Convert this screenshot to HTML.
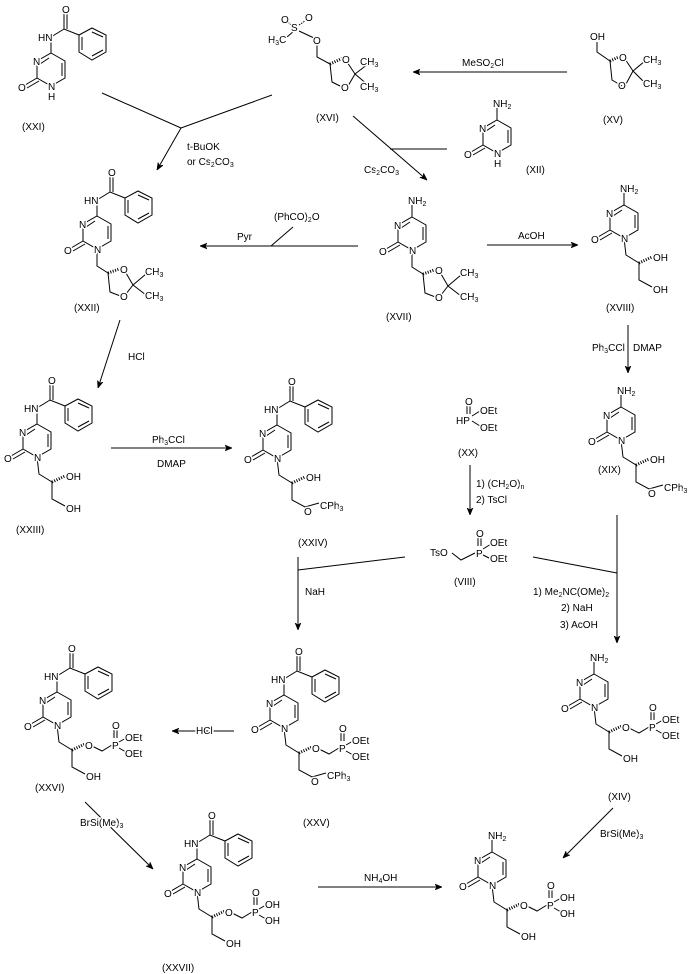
<!DOCTYPE html>
<html><head><meta charset="utf-8">
<style>
html,body{margin:0;padding:0;background:#fff;}
svg{display:block;}
text{font-family:"Liberation Sans",sans-serif;font-size:10px;fill:#000;paint-order:stroke;stroke:#fff;stroke-width:3px;stroke-linejoin:round;}
.s{font-size:7px;}
path,line{stroke:#000;stroke-width:1;fill:none;}
.h{stroke-width:3;stroke-dasharray:1,1.5;}
</style></head><body>
<svg width="690" height="974" viewBox="0 0 690 974" xmlns="http://www.w3.org/2000/svg">
<defs>
<marker id="a" viewBox="0 0 10 10" refX="10" refY="5" markerWidth="7" markerHeight="7" orient="auto-start-reverse" markerUnits="userSpaceOnUse"><path d="M0,1 L10,5 L0,9 L3,5 Z" style="fill:#000;stroke:#000;stroke-width:1"/></marker>
</defs>

<!-- ===== Arrows ===== -->
<line x1="567" y1="72" x2="413" y2="72" marker-end="url(#a)"/>
<line x1="102" y1="93" x2="181" y2="128"/>
<line x1="272" y1="95" x2="181" y2="128"/>
<line x1="181" y1="128" x2="157" y2="170" marker-end="url(#a)"/>
<line x1="353" y1="116" x2="427" y2="180" marker-end="url(#a)"/>
<line x1="390" y1="149" x2="447" y2="149"/>
<line x1="358" y1="246" x2="200" y2="246" marker-end="url(#a)"/>
<line x1="271" y1="246" x2="293" y2="227"/>
<line x1="487" y1="245" x2="578" y2="245" marker-end="url(#a)"/>
<line x1="120" y1="320" x2="98" y2="388" marker-end="url(#a)"/>
<line x1="628" y1="325" x2="628" y2="373" marker-end="url(#a)"/>
<line x1="111" y1="448" x2="232" y2="448" marker-end="url(#a)"/>
<line x1="470" y1="465" x2="470" y2="515" marker-end="url(#a)"/>
<line x1="405" y1="557" x2="298" y2="570"/>
<line x1="298" y1="557" x2="298" y2="630" marker-end="url(#a)"/>
<line x1="533" y1="557" x2="617" y2="573"/>
<line x1="617" y1="515" x2="617" y2="643" marker-end="url(#a)"/>
<line x1="234" y1="731" x2="172" y2="731" marker-end="url(#a)"/>
<line x1="85" y1="802" x2="153" y2="869" marker-end="url(#a)"/>
<line x1="318" y1="887" x2="442" y2="887" marker-end="url(#a)"/>
<line x1="613" y1="808" x2="563" y2="858" marker-end="url(#a)"/>

<!-- arrow labels -->
<text x="462" y="66">MeSO<tspan class="s" dy="2">2</tspan><tspan dy="-2">Cl</tspan></text>
<text x="187" y="150">t-BuOK</text>
<text x="187" y="165">or Cs<tspan class="s" dy="2">2</tspan><tspan dy="-2">CO</tspan><tspan class="s" dy="2">3</tspan></text>
<text x="364" y="173">Cs<tspan class="s" dy="2">2</tspan><tspan dy="-2">CO</tspan><tspan class="s" dy="2">3</tspan></text>
<text x="274" y="220">(PhCO)<tspan class="s" dy="2">2</tspan><tspan dy="-2">O</tspan></text>
<text x="237" y="240">Pyr</text>
<text x="518" y="239">AcOH</text>
<text x="128" y="360">HCl</text>
<text x="592" y="351">Ph<tspan class="s" dy="2">3</tspan><tspan dy="-2">CCl</tspan></text>
<text x="633" y="351">DMAP</text>
<text x="152" y="443">Ph<tspan class="s" dy="2">3</tspan><tspan dy="-2">CCl</tspan></text>
<text x="157" y="467">DMAP</text>
<text x="476" y="487">1) (CH<tspan class="s" dy="2">2</tspan><tspan dy="-2">O)</tspan><tspan class="s" dy="2">n</tspan></text>
<text x="476" y="503">2) TsCl</text>
<text x="305" y="595">NaH</text>
<text x="533" y="595">1) Me<tspan class="s" dy="2">2</tspan><tspan dy="-2">NC(OMe)</tspan><tspan class="s" dy="2">2</tspan></text>
<text x="561" y="611">2) NaH</text>
<text x="560" y="628">3) AcOH</text>
<text x="196" y="734">HCl</text>
<text x="80" y="826">BrSi(Me)<tspan class="s" dy="2">3</tspan></text>
<text x="364" y="881">NH<tspan class="s" dy="2">4</tspan><tspan dy="-2">OH</tspan></text>
<text x="600" y="837">BrSi(Me)<tspan class="s" dy="2">3</tspan></text>

<!-- compound labels -->
<text x="22" y="130">(XXI)</text>
<text x="316" y="121">(XVI)</text>
<text x="603" y="123">(XV)</text>
<text x="526" y="173">(XII)</text>
<text x="74" y="311">(XXII)</text>
<text x="386" y="320">(XVII)</text>
<text x="606" y="311">(XVIII)</text>
<text x="458" y="456">(XX)</text>
<text x="598" y="473">(XIX)</text>
<text x="16" y="533">(XXIII)</text>
<text x="298" y="546">(XXIV)</text>
<text x="454" y="585">(VIII)</text>
<text x="35" y="791">(XXVI)</text>
<text x="303" y="826">(XXV)</text>
<text x="608" y="800">(XIV)</text>
<text x="162" y="971">(XXVII)</text>

<!-- ===== XVI ===== -->
<path d="M287,37 L294,31 M299,31 L314,38 M317,45 L317,57 L330,64 L332,82 L344,88 M355,74 L347,62 M355,74 L348,86 M355,74 L368,64 M355,74 L368,85"/>
<path d="M291,25 L288,22 M299,25 L305,21" style="stroke-dasharray:1.5,1"/>
<line class="h" x1="330" y1="64" x2="343" y2="58"/>
<text x="268" y="43">H<tspan class="s" dy="2">3</tspan><tspan dy="-2">C</tspan></text>
<text x="291" y="31">S</text>
<text x="281" y="23">O</text>
<text x="305" y="21">O</text>
<text x="313" y="44">O</text>
<text x="342" y="63">O</text>
<text x="341" y="91">O</text>
<text x="360" y="65">CH<tspan class="s" dy="2">3</tspan></text>
<text x="360" y="90">CH<tspan class="s" dy="2">3</tspan></text>

<!-- ===== XV ===== -->
<path d="M597,42 L597,52 L610,61 L612,80 L622,86 M633,71 L625,59 M633,71 L626,84 M633,71 L645,61 M633,71 L645,83"/>
<line class="h" x1="610" y1="61" x2="621" y2="56"/>
<text x="590" y="40">OH</text>
<text x="619" y="61">O</text>
<text x="618" y="89">O</text>
<text x="643" y="63">CH<tspan class="s" dy="2">3</tspan></text>
<text x="643" y="87">CH<tspan class="s" dy="2">3</tspan></text>

<!-- ===== XX ===== -->
<path d="M467,406 L467,414 M470,406 L470,414 M472,416 L480,411 M472,421 L480,426"/>
<text x="465" y="405">O</text>
<text x="456" y="424">HP</text>
<text x="480" y="414">OEt</text>
<text x="480" y="431">OEt</text>

<!-- ===== VIII ===== -->
<path d="M452,553 L461,560 L475,553 M478,538 L478,546 M481,538 L481,546 M483,549 L491,544 M483,555 L491,559"/>
<text x="430" y="556">TsO</text>
<text x="476" y="557">P</text>
<text x="476" y="537">O</text>
<text x="490" y="546">OEt</text>
<text x="490" y="562">OEt</text>

<!-- ===== XXI (benzoyl, NH) ===== -->
<g transform="translate(51,53)">
<path d="M0,0 L14,8 L14,25 L0,33 L-14,25 L-14,8 Z M11,10 L11,23 M-11,11 L-2,5 M-14,25 L-26,32 M-12,28 L-24,35"/>
<path d="M0,0 L0,-16 L13,-24 L28,-18 M13,-24 L13,-40 M16,-24 L16,-40 M28,-18 L41,-25 L55,-18 L55,-1 L41,7 L28,-1 Z M41,-21 L52,-16 M52,-3 L41,3 M31,-3 L31,-16"/>
<text x="-13" y="-12">HN</text><text x="11" y="-40">O</text>
<text x="-18" y="12">N</text><text x="-33" y="38">O</text>
<text x="-3" y="37">N</text><text x="-3" y="47">H</text>
</g>

<!-- ===== XII (NH2, NH) ===== -->
<g transform="translate(497,120)">
<path d="M0,0 L14,8 L14,25 L0,33 L-14,25 L-14,8 Z M11,10 L11,23 M-11,11 L-2,5 M-14,25 L-26,32 M-12,28 L-24,35 M0,0 L0,-12"/>
<text x="-4" y="-13">NH<tspan class="s" dy="2">2</tspan></text>
<text x="-18" y="12">N</text><text x="-33" y="38">O</text>
<text x="-3" y="37">N</text><text x="-3" y="47">H</text>
</g>

<!-- ===== XXII (benzoyl + dioxolane) ===== -->
<g transform="translate(97,216)">
<path d="M0,0 L14,8 L14,25 L0,33 L-14,25 L-14,8 Z M11,10 L11,23 M-11,11 L-2,5 M-14,25 L-26,32 M-12,28 L-24,35"/>
<path d="M0,0 L0,-16 L13,-24 L28,-18 M13,-24 L13,-40 M16,-24 L16,-40 M28,-18 L41,-25 L55,-18 L55,-1 L41,7 L28,-1 Z M41,-21 L52,-16 M52,-3 L41,3 M31,-3 L31,-16"/>
<path d="M0,33 L0,50 L11,57 L13,76 L26,81 M36,69 L29,57 M36,69 L29,78 M36,69 L49,58 M36,69 L49,79"/>
<line class="h" x1="11" y1="57" x2="25" y2="52"/>
<text x="-13" y="-12">HN</text><text x="11" y="-40">O</text>
<text x="-18" y="12">N</text><text x="-33" y="38">O</text><text x="-3" y="37">N</text>
<text x="23" y="57">O</text><text x="23" y="84">O</text>
<text x="48" y="59">CH<tspan class="s" dy="2">3</tspan></text>
<text x="48" y="83">CH<tspan class="s" dy="2">3</tspan></text>
</g>

<!-- ===== XVII (NH2 + dioxolane) ===== -->
<g transform="translate(412,217)">
<path d="M0,0 L14,8 L14,25 L0,33 L-14,25 L-14,8 Z M11,10 L11,23 M-11,11 L-2,5 M-14,25 L-26,32 M-12,28 L-24,35 M0,0 L0,-12"/>
<path d="M0,33 L0,50 L11,57 L13,76 L26,81 M36,69 L29,57 M36,69 L29,78 M36,69 L49,58 M36,69 L49,79"/>
<line class="h" x1="11" y1="57" x2="25" y2="52"/>
<text x="-4" y="-13">NH<tspan class="s" dy="2">2</tspan></text>
<text x="-18" y="12">N</text><text x="-33" y="38">O</text><text x="-3" y="37">N</text>
<text x="23" y="57">O</text><text x="23" y="84">O</text>
<text x="48" y="59">CH<tspan class="s" dy="2">3</tspan></text>
<text x="48" y="83">CH<tspan class="s" dy="2">3</tspan></text>
</g>

<!-- ===== XVIII (NH2 + diol) ===== -->
<g transform="translate(624,205)">
<path d="M0,0 L14,8 L14,25 L0,33 L-14,25 L-14,8 Z M11,10 L11,23 M-11,11 L-2,5 M-14,25 L-26,32 M-12,28 L-24,35 M0,0 L0,-12"/>
<path d="M0,33 L2,50 L15,58 L15,75 L28,82"/>
<line class="h" x1="15" y1="58" x2="28" y2="52"/>
<text x="-4" y="-13">NH<tspan class="s" dy="2">2</tspan></text>
<text x="-18" y="12">N</text><text x="-33" y="38">O</text><text x="-3" y="37">N</text>
<text x="29" y="56">OH</text><text x="29" y="88">OH</text>
</g>

<!-- ===== XXIII (benzoyl + diol) ===== -->
<g transform="translate(37,424)">
<path d="M0,0 L14,8 L14,25 L0,33 L-14,25 L-14,8 Z M11,10 L11,23 M-11,11 L-2,5 M-14,25 L-26,32 M-12,28 L-24,35"/>
<path d="M0,0 L0,-16 L13,-24 L28,-18 M13,-24 L13,-40 M16,-24 L16,-40 M28,-18 L41,-25 L55,-18 L55,-1 L41,7 L28,-1 Z M41,-21 L52,-16 M52,-3 L41,3 M31,-3 L31,-16"/>
<path d="M0,33 L2,50 L15,58 L15,75 L28,82"/>
<line class="h" x1="15" y1="58" x2="28" y2="52"/>
<text x="-13" y="-12">HN</text><text x="11" y="-40">O</text>
<text x="-18" y="12">N</text><text x="-33" y="38">O</text><text x="-3" y="37">N</text>
<text x="29" y="56">OH</text><text x="29" y="88">OH</text>
</g>

<!-- ===== XXIV (benzoyl + OH/OCPh3) ===== -->
<g transform="translate(277,425)">
<path d="M0,0 L14,8 L14,25 L0,33 L-14,25 L-14,8 Z M11,10 L11,23 M-11,11 L-2,5 M-14,25 L-26,32 M-12,28 L-24,35"/>
<path d="M0,0 L0,-16 L13,-24 L28,-18 M13,-24 L13,-40 M16,-24 L16,-40 M28,-18 L41,-25 L55,-18 L55,-1 L41,7 L28,-1 Z M41,-21 L52,-16 M52,-3 L41,3 M31,-3 L31,-16"/>
<path d="M0,33 L2,50 L15,58 L15,75 L28,82 L42,78"/>
<line class="h" x1="15" y1="58" x2="28" y2="52"/>
<text x="-13" y="-12">HN</text><text x="11" y="-40">O</text>
<text x="-18" y="12">N</text><text x="-33" y="38">O</text><text x="-3" y="37">N</text>
<text x="29" y="56">OH</text><text x="27" y="90">O</text>
<text x="43" y="84">CPh<tspan class="s" dy="2">3</tspan></text>
</g>

<!-- ===== XIX (NH2 + OH/OCPh3) ===== -->
<g transform="translate(621,407)">
<path d="M0,0 L14,8 L14,25 L0,33 L-14,25 L-14,8 Z M11,10 L11,23 M-11,11 L-2,5 M-14,25 L-26,32 M-12,28 L-24,35 M0,0 L0,-12"/>
<path d="M0,33 L2,50 L15,58 L15,75 L28,82 L42,78"/>
<line class="h" x1="15" y1="58" x2="28" y2="52"/>
<text x="-4" y="-13">NH<tspan class="s" dy="2">2</tspan></text>
<text x="-18" y="12">N</text><text x="-33" y="38">O</text><text x="-3" y="37">N</text>
<text x="29" y="56">OH</text><text x="27" y="90">O</text>
<text x="43" y="84">CPh<tspan class="s" dy="2">3</tspan></text>
</g>

<!-- ===== XXVI (benzoyl + phosphonate OEt + OH) ===== -->
<g transform="translate(57,692)">
<path d="M0,0 L14,8 L14,25 L0,33 L-14,25 L-14,8 Z M11,10 L11,23 M-11,11 L-2,5 M-14,25 L-26,32 M-12,28 L-24,35"/>
<path d="M0,0 L0,-16 L13,-24 L28,-18 M13,-24 L13,-40 M16,-24 L16,-40 M28,-18 L41,-25 L55,-18 L55,-1 L41,7 L28,-1 Z M41,-21 L52,-16 M52,-3 L41,3 M31,-3 L31,-16"/>
<path d="M0,33 L2,50 L15,58 L15,75 L28,82 M35,54 L45,59 L55,53 M57,46 L57,37 M60,46 L60,37 M62,50 L69,46 M62,56 L69,60"/>
<line class="h" x1="15" y1="58" x2="28" y2="52"/>
<text x="-13" y="-12">HN</text><text x="11" y="-40">O</text>
<text x="-18" y="12">N</text><text x="-33" y="38">O</text><text x="-3" y="37">N</text>
<text x="28" y="57">O</text><text x="55" y="57">P</text><text x="55" y="37">O</text>
<text x="68" y="49">OEt</text><text x="68" y="65">OEt</text>
<text x="29" y="88">OH</text>
</g>

<!-- ===== XXV (benzoyl + phosphonate OEt + OCPh3) ===== -->
<g transform="translate(284,695)">
<path d="M0,0 L14,8 L14,25 L0,33 L-14,25 L-14,8 Z M11,10 L11,23 M-11,11 L-2,5 M-14,25 L-26,32 M-12,28 L-24,35"/>
<path d="M0,0 L0,-16 L13,-24 L28,-18 M13,-24 L13,-40 M16,-24 L16,-40 M28,-18 L41,-25 L55,-18 L55,-1 L41,7 L28,-1 Z M41,-21 L52,-16 M52,-3 L41,3 M31,-3 L31,-16"/>
<path d="M0,33 L2,50 L15,58 L15,75 L28,82 L42,78 M35,54 L45,59 L55,53 M57,46 L57,37 M60,46 L60,37 M62,50 L69,46 M62,56 L69,60"/>
<line class="h" x1="15" y1="58" x2="28" y2="52"/>
<text x="-13" y="-12">HN</text><text x="11" y="-40">O</text>
<text x="-18" y="12">N</text><text x="-33" y="38">O</text><text x="-3" y="37">N</text>
<text x="28" y="57">O</text><text x="55" y="57">P</text><text x="55" y="37">O</text>
<text x="68" y="49">OEt</text><text x="68" y="65">OEt</text>
<text x="27" y="90">O</text>
<text x="43" y="84">CPh<tspan class="s" dy="2">3</tspan></text>
</g>

<!-- ===== XIV (NH2 + phosphonate OEt + OH) ===== -->
<g transform="translate(594,674)">
<path d="M0,0 L14,8 L14,25 L0,33 L-14,25 L-14,8 Z M11,10 L11,23 M-11,11 L-2,5 M-14,25 L-26,32 M-12,28 L-24,35 M0,0 L0,-12"/>
<path d="M0,33 L2,50 L15,58 L15,75 L28,82 M35,54 L45,59 L55,53 M57,46 L57,37 M60,46 L60,37 M62,50 L69,46 M62,56 L69,60"/>
<line class="h" x1="15" y1="58" x2="28" y2="52"/>
<text x="-4" y="-13">NH<tspan class="s" dy="2">2</tspan></text>
<text x="-18" y="12">N</text><text x="-33" y="38">O</text><text x="-3" y="37">N</text>
<text x="28" y="57">O</text><text x="55" y="57">P</text><text x="55" y="37">O</text>
<text x="68" y="49">OEt</text><text x="68" y="65">OEt</text>
<text x="29" y="88">OH</text>
</g>

<!-- ===== XXVII (benzoyl + phosphonic acid + OH) ===== -->
<g transform="translate(197,859)">
<path d="M0,0 L14,8 L14,25 L0,33 L-14,25 L-14,8 Z M11,10 L11,23 M-11,11 L-2,5 M-14,25 L-26,32 M-12,28 L-24,35"/>
<path d="M0,0 L0,-16 L13,-24 L28,-18 M13,-24 L13,-40 M16,-24 L16,-40 M28,-18 L41,-25 L55,-18 L55,-1 L41,7 L28,-1 Z M41,-21 L52,-16 M52,-3 L41,3 M31,-3 L31,-16"/>
<path d="M0,33 L2,50 L15,58 L15,75 L28,82 M35,54 L45,59 L55,53 M57,46 L57,37 M60,46 L60,37 M62,50 L69,46 M62,56 L69,60"/>
<line class="h" x1="15" y1="58" x2="28" y2="52"/>
<text x="-13" y="-12">HN</text><text x="11" y="-40">O</text>
<text x="-18" y="12">N</text><text x="-33" y="38">O</text><text x="-3" y="37">N</text>
<text x="28" y="57">O</text><text x="55" y="57">P</text><text x="55" y="37">O</text>
<text x="68" y="49">OH</text><text x="68" y="65">OH</text>
<text x="29" y="88">OH</text>
</g>

<!-- ===== Final product (NH2 + phosphonic acid + OH) ===== -->
<g transform="translate(492,852)">
<path d="M0,0 L14,8 L14,25 L0,33 L-14,25 L-14,8 Z M11,10 L11,23 M-11,11 L-2,5 M-14,25 L-26,32 M-12,28 L-24,35 M0,0 L0,-12"/>
<path d="M0,33 L2,50 L15,58 L15,75 L28,82 M35,54 L45,59 L55,53 M57,46 L57,37 M60,46 L60,37 M62,50 L69,46 M62,56 L69,60"/>
<line class="h" x1="15" y1="58" x2="28" y2="52"/>
<text x="-4" y="-13">NH<tspan class="s" dy="2">2</tspan></text>
<text x="-18" y="12">N</text><text x="-33" y="38">O</text><text x="-3" y="37">N</text>
<text x="28" y="57">O</text><text x="55" y="57">P</text><text x="55" y="37">O</text>
<text x="68" y="49">OH</text><text x="68" y="65">OH</text>
<text x="29" y="88">OH</text>
</g>

</svg>
</body></html>
